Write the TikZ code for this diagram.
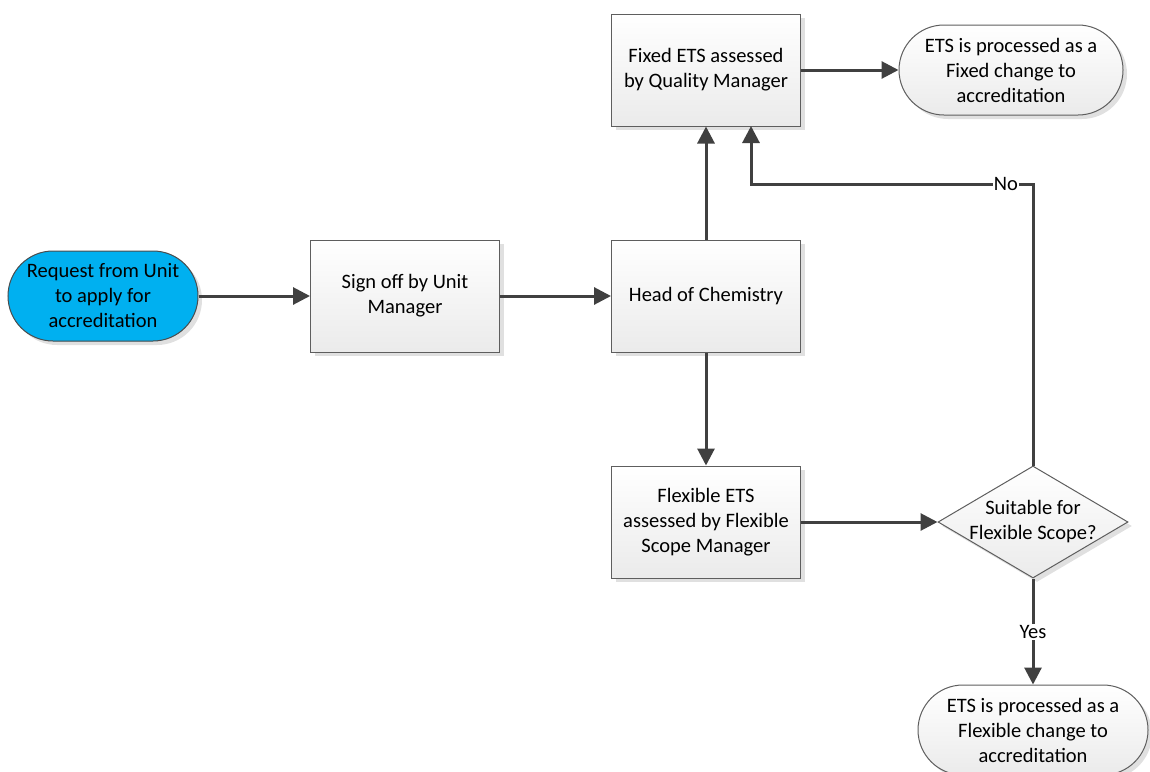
\documentclass[tikz,border=0pt]{standalone}
\usepackage{fontspec}
\setmainfont{Carlito}
\usetikzlibrary{arrows.meta,shadows,shapes.geometric}
\definecolor{edge}{HTML}{404040}
\definecolor{bord}{HTML}{5E5E5E}
\definecolor{startblue}{HTML}{00B0F0}
\tikzset{
  base/.style={draw=bord, line width=1pt, align=center, font=\fontsize{20.5}{25}\selectfont,
    drop shadow={shadow xshift=4pt, shadow yshift=-4pt, fill=black!12, opacity=1}},
  procbox/.style={base, rectangle, minimum width=189pt, minimum height=112pt,
    top color=white, bottom color=black!8},
  term/.style={base, rectangle, rounded corners=45pt, minimum width=224pt, minimum height=90pt,
    top color=white, bottom color=black!8},
  decision/.style={base, diamond, minimum width=190pt, minimum height=112pt, inner sep=0pt,
    top color=white, bottom color=black!8},
  conn/.style={draw=edge, line width=3pt, -{Triangle[length=17pt,width=17pt]}},
  lbl/.style={fill=white, inner sep=1pt, font=\fontsize{20.5}{25}\selectfont}
}
\begin{document}
\begin{tikzpicture}[x=1pt, y=-1pt]
\useasboundingbox (0,0) rectangle (1150,771);
\node[term, minimum width=190pt, fill=startblue, top color=startblue, bottom color=startblue, draw=black!70] (start) at (103,296) {Request from Unit\\to apply for\\accreditation};
\node[procbox] (sign) at (405,296) {Sign off by Unit\\Manager};
\node[procbox] (head) at (706,296) {Head of Chemistry};
\node[procbox] (fixed) at (706,70) {Fixed ETS assessed\\by Quality Manager};
\node[term] (fixedend) at (1011,70) {ETS is processed as a\\Fixed change to\\accreditation};
\node[procbox] (flex) at (706,522) {Flexible ETS\\assessed by Flexible\\Scope Manager};
\node[decision] (suit) at (1033,522) {};
\node[align=center, font=\fontsize{20.5}{25}\selectfont] (suittext) at (suit.center) {Suitable for\\Flexible Scope?};
\node[term, minimum width=230pt] (flexend) at (1033,730) {ETS is processed as a\\Flexible change to\\accreditation};
\coordinate (corner) at (1033,184);
\coordinate (back) at (751,184);
\coordinate (fixedin) at (751,126);

\draw[conn] (start) -- (sign);
\draw[conn] (sign) -- (head);
\draw[conn] (head) -- (fixed);
\draw[conn] (fixed) -- (fixedend);
\draw[conn] (head) -- (flex);
\draw[conn] (flex) -- (suit);
\draw[conn] (suit.north) -- (corner) -- (back) -- (fixedin);
\node[lbl] (no) at (1006,184) {No};
\draw[conn] (suit.south) -- (flexend.north);
\node[lbl] (yes) at (1033,632) {Yes};
\end{tikzpicture}
\end{document}
